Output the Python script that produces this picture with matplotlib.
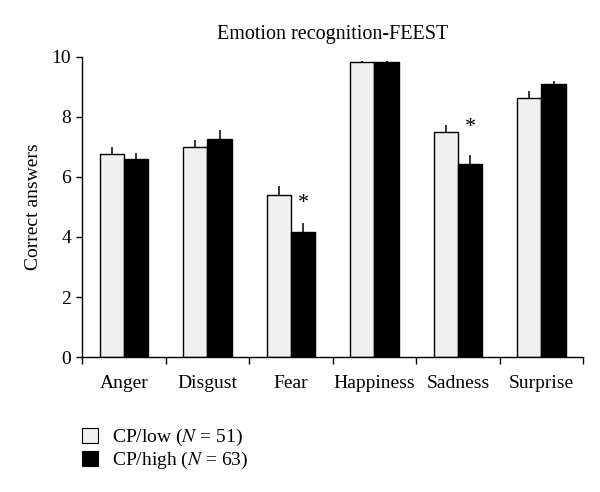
import numpy as np
import matplotlib
matplotlib.use("Agg")
import matplotlib.pyplot as plt
from matplotlib.patches import Patch

plt.rcParams['font.family'] = ['Liberation Serif', 'DejaVu Serif']
plt.rcParams['mathtext.fontset'] = 'stix'

categories = ["Anger", "Disgust", "Fear", "Happiness", "Sadness", "Surprise"]
cp_low = [6.75, 6.98, 5.38, 9.81, 7.50, 8.63]
cp_low_err = [0.24, 0.24, 0.31, 0.03, 0.22, 0.24]
cp_high = [6.58, 7.25, 4.15, 9.81, 6.43, 9.08]
cp_high_err = [0.22, 0.31, 0.30, 0.03, 0.29, 0.11]
stars = {"Fear": 5.12, "Sadness": 7.63}

fig = plt.figure(figsize=(6, 4.92), dpi=100)
ax = fig.add_axes([0.137, 0.274, 0.835, 0.611])

x = np.arange(len(categories))
w = 0.29
ax.bar(x - w / 2, cp_low, w, color="#f0f0f0", edgecolor="black", linewidth=1)
ax.bar(x + w / 2, cp_high, w, color="black", edgecolor="black", linewidth=1)
ax.errorbar(x - w / 2, cp_low, yerr=[np.zeros(6), cp_low_err], fmt="none",
            ecolor="black", elinewidth=1.1, capsize=0)
ax.errorbar(x + w / 2, cp_high, yerr=[np.zeros(6), cp_high_err], fmt="none",
            ecolor="black", elinewidth=1.1, capsize=0)

for name, yv in stars.items():
    i = categories.index(name)
    ax.text(i + w / 2, yv, "*", ha="center", va="center", fontsize=16)

ax.set_xlim(-0.5, len(categories) - 0.5)
ax.set_ylim(0, 10)
ax.set_yticks([0, 2, 4, 6, 8, 10])
ax.set_xticks(np.arange(len(categories) + 1) - 0.5)
ax.set_xticklabels([])
ax.set_xticks(x, minor=True)
ax.set_xticklabels(categories, minor=True)
ax.tick_params(axis="x", which="minor", length=0, pad=13, labelsize=14)
ax.tick_params(axis="x", which="major", length=5, width=1, direction="out")
ax.tick_params(axis="y", length=4, width=1, direction="out", labelsize=14, pad=4)
for s in ["top", "right"]:
    ax.spines[s].set_visible(False)
ax.spines["left"].set_linewidth(1)
ax.spines["bottom"].set_linewidth(1)
ax.set_ylabel("Correct answers", fontsize=14, labelpad=7)
ax.set_title("Emotion recognition-FEEST", fontsize=14.5, pad=13)

handles = [Patch(facecolor="#f0f0f0", edgecolor="black", linewidth=0.8),
           Patch(facecolor="black", edgecolor="black", linewidth=0.8)]
labels = ["CP/low ($N$ = 51)", "CP/high ($N$ = 63)"]
fig.legend(handles, labels, loc="upper left", bbox_to_anchor=(0.123, 0.148),
           frameon=False, fontsize=14, handlelength=0.85, handleheight=0.85,
           handletextpad=0.7, labelspacing=0.1, borderaxespad=0)

fig.savefig("out.png", dpi=100)
